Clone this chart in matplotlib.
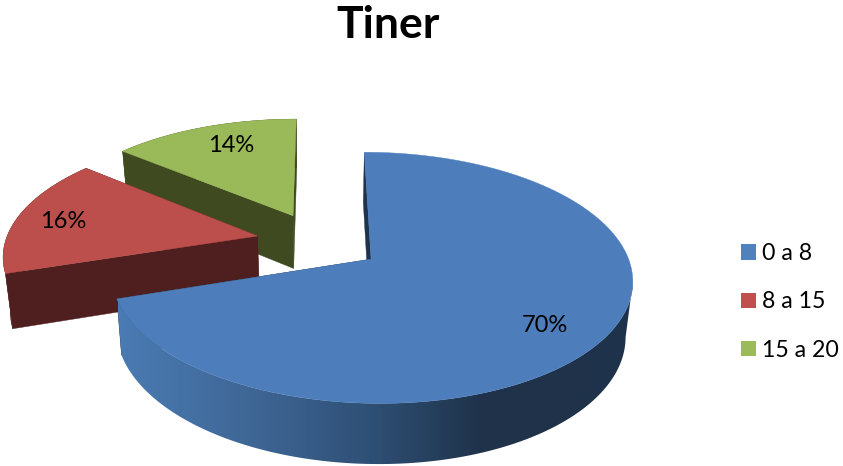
import numpy as np
import matplotlib
matplotlib.use("Agg")
import matplotlib.pyplot as plt
from matplotlib.patches import Polygon, Patch
from matplotlib.colors import LinearSegmentedColormap

# data
title = "Tiner"
categories = ["0 a 8", "8 a 15", "15 a 20"]
values = [70, 16, 14]
labels = ["70%", "16%", "14%"]

# style
top_colors = ["#4d7ebb", "#bc4f4c", "#9ab958"]
legend_colors = ["#4f81bd", "#c0504d", "#9bbb59"]
wall_colors = ["#1f334c", "#4e1f1e", "#3f4a20"]
label_xy = [(545, 326), (63, 221), (231, 146)]
plt.rcParams["font.family"] = ["Lato", "DejaVu Sans"]

# perspective model of the tilted pie, in figure pixels
X0, Y0, FX, FY, K = 319.0, 241.5, 252.0, 117.6, 0.1455
EXPLODE = 0.25
BOTTOM_SCALE = 0.977
DROP_A, DROP_B = 43.6, 0.0423


def project(x, y):
    w = 1 + K * y
    return X0 + FX * x / w, Y0 - FY * y / w


def to_bottom(sx, sy):
    return X0 + (sx - X0) * BOTTOM_SCALE, sy + DROP_A + DROP_B * sy


fig = plt.figure(figsize=(8.43, 4.66), dpi=100)
ax = fig.add_axes([0, 0, 1, 1])

fractions = np.array(values, dtype=float) / sum(values)
edges = np.concatenate([[0], np.cumsum(fractions)]) * 2 * np.pi

blue_cmap = LinearSegmentedColormap.from_list(
    "side", [(0.0, "#4a7bb3"), (0.25, "#3f6796"), (0.48, "#2f5076"),
             (0.70, "#1f3249"), (1.0, "#1f334c")])


def draw_slice(i):
    t0, t1 = edges[i], edges[i + 1]
    mid = (t0 + t1) / 2
    cx, cy = EXPLODE * np.sin(mid), EXPLODE * np.cos(mid)
    th = np.linspace(t0, t1, 400)
    ax_, ay_ = project(cx + np.sin(th), cy + np.cos(th))
    px, py = project(cx, cy)
    bax, bay = to_bottom(ax_, ay_)
    bpx, bpy = to_bottom(px, py)

    # the outer wall starts at the silhouette point, so its side edge is a straight line
    start = int(np.argmax(ax_)) if i == 0 else 0
    arc_wall = np.r_[np.c_[ax_[start:], ay_[start:]], np.c_[bax[start:], bay[start:]][::-1]]
    wall_a = [(ax_[0], ay_[0]), (px, py), (bpx, bpy), (bax[0], bay[0])]
    wall_b = [(ax_[-1], ay_[-1]), (px, py), (bpx, bpy), (bax[-1], bay[-1])]

    z_wall = 1 if i else 4
    z_top = z_wall + 1
    for w in (wall_a, wall_b):
        ax.add_patch(Polygon(w, closed=True, fc=wall_colors[i], ec=wall_colors[i],
                             lw=0.3, zorder=z_wall))
    if i == 0:
        grad = np.linspace(0, 1, 512).reshape(1, -1)
        im = ax.imshow(grad, extent=(118, 640, 480, 140), cmap=blue_cmap,
                       aspect="auto", zorder=z_wall + 0.5)
        poly = Polygon(arc_wall, closed=True, transform=ax.transData, fc="none", lw=0)
        ax.add_patch(poly)
        im.set_clip_path(poly)
    else:
        ax.add_patch(Polygon(arc_wall, closed=True, fc=wall_colors[i], ec=wall_colors[i],
                             lw=0.3, zorder=z_wall))

    top = np.r_[[(px, py)], np.c_[ax_, ay_]]
    ax.add_patch(Polygon(top, closed=True, fc=top_colors[i], ec=top_colors[i],
                         lw=0.3, zorder=z_top))


# paint from back to front
draw_slice(2)
draw_slice(1)
draw_slice(0)

for lab, (x, y) in zip(labels, label_xy):
    ax.text(x, y, lab, ha="center", va="center", fontsize=17, color="black", zorder=10)

ax.text(388, 25, title, ha="center", va="center", fontsize=32, fontweight="bold", color="black")

handles = [Patch(facecolor=c, edgecolor="none") for c in legend_colors]
ax.legend(handles, categories, loc="center left", bbox_to_anchor=(741 / 843, 1 - 302 / 466),
          frameon=False, fontsize=16.7, handlelength=0.65, handleheight=0.65,
          handletextpad=0.26, labelspacing=1.18, borderpad=0, borderaxespad=0)

ax.set_xlim(0, 843)
ax.set_ylim(466, 0)
ax.axis("off")
fig.savefig("out.png", dpi=100, facecolor="white")
